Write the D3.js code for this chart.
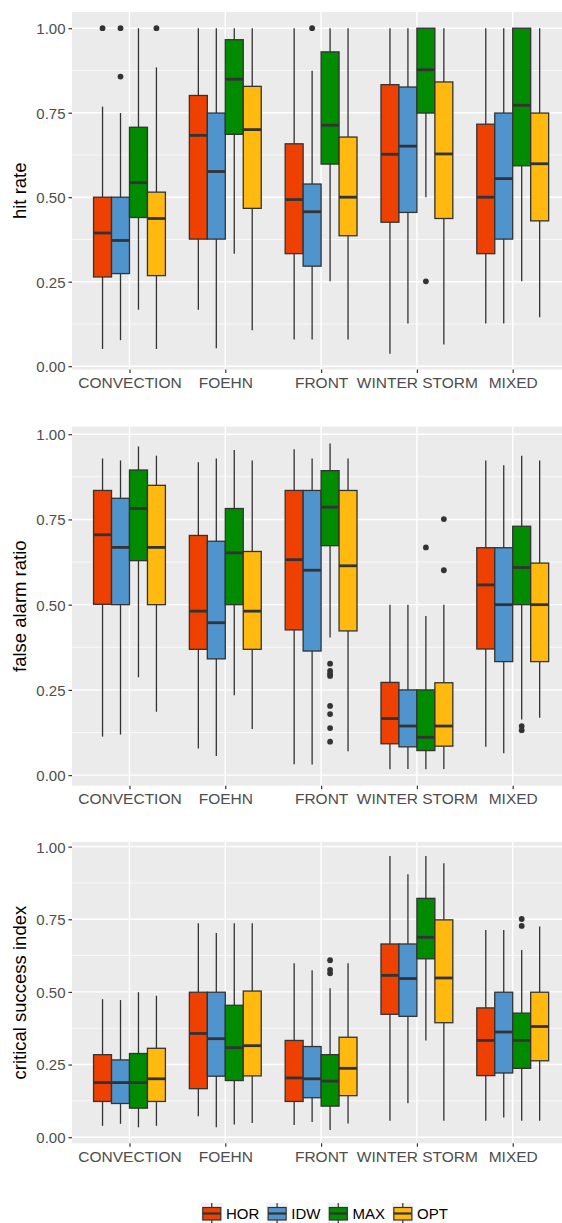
<!DOCTYPE html>
<html>
<head>
<meta charset="utf-8">
<script src="https://cdn.jsdelivr.net/npm/d3@7"></script>
<style>
  body { margin: 0; background: #fff; }
  text { font-family: "Liberation Sans", Arial, sans-serif; }
</style>
</head>
<body>
<div id="chart"></div>
<script>
// Categories, methods and ticks
const categories = ["CONVECTION", "FOEHN", "FRONT", "WINTER STORM", "MIXED"];
const methods = ["HOR", "IDW", "MAX", "OPT"];
const methodColors = ["#EE4000", "#4F94CD", "#008B00", "#FFB90F"];
const yTicks = [0, 0.25, 0.5, 0.75, 1];
const yMinorTicks = [0.125, 0.375, 0.625, 0.875];

// Box stats per category: [lower whisker, Q1, median, Q3, upper whisker]
const hitHOR = [[0.051,0.264,0.394,0.50,0.768],[0.167,0.376,0.683,0.801,1.0],[0.079,0.333,0.493,0.658,1.0],[0.037,0.426,0.627,0.833,1.0],[0.126,0.333,0.50,0.716,1.0]];
const hitIDW = [[0.077,0.274,0.372,0.50,0.749],[0.053,0.376,0.576,0.749,1.0],[0.079,0.296,0.457,0.539,0.874],[0.126,0.455,0.651,0.826,1.0],[0.126,0.376,0.555,0.749,1.0]];
const hitMAX = [[0.167,0.44,0.543,0.707,1.0],[0.333,0.686,0.849,0.966,1.0],[0.251,0.598,0.713,0.930,1.0],[0.50,0.749,0.877,1.0,1.0],[0.251,0.593,0.772,1.0,1.0]];
const hitOPT = [[0.051,0.268,0.437,0.515,0.884],[0.106,0.467,0.70,0.828,1.0],[0.079,0.386,0.50,0.678,1.0],[0.064,0.437,0.628,0.841,1.0],[0.145,0.43,0.599,0.749,1.0]];
const hitOutliers = [["CONVECTION","HOR",1.0],["CONVECTION","IDW",1.0],["CONVECTION","IDW",0.857],["CONVECTION","OPT",1.0],["FRONT","IDW",1.0],["WINTER STORM","MAX",0.251]];

const farHOR = [[0.113,0.501,0.705,0.835,0.929],[0.078,0.369,0.481,0.703,0.918],[0.032,0.426,0.632,0.835,0.956],[0.017,0.092,0.166,0.272,0.50],[0.083,0.370,0.558,0.667,0.923]];
const farIDW = [[0.119,0.50,0.668,0.812,0.923],[0.056,0.341,0.447,0.686,0.929],[0.031,0.364,0.601,0.835,0.929],[0.018,0.083,0.144,0.25,0.50],[0.064,0.333,0.50,0.667,0.909]];
const farMAX = [[0.287,0.629,0.782,0.895,0.964],[0.234,0.50,0.652,0.782,0.954],[0.404,0.673,0.786,0.893,0.973],[0.017,0.072,0.111,0.25,0.467],[0.163,0.50,0.609,0.73,0.937]];
const farOPT = [[0.186,0.50,0.668,0.85,0.937],[0.135,0.369,0.481,0.656,0.923],[0.07,0.423,0.614,0.835,0.929],[0.018,0.085,0.144,0.271,0.50],[0.168,0.333,0.50,0.622,0.923]];
const farOutliers = [["FRONT","MAX",0.327],["FRONT","MAX",0.306],["FRONT","MAX",0.297],["FRONT","MAX",0.291],["FRONT","MAX",0.203],["FRONT","MAX",0.179],["FRONT","MAX",0.138],["FRONT","MAX",0.098],["WINTER STORM","MAX",0.668],["WINTER STORM","OPT",0.751],["WINTER STORM","OPT",0.601],["MIXED","MAX",0.144],["MIXED","MAX",0.132]];

const csiHOR = [[0.039,0.123,0.188,0.284,0.475],[0.072,0.167,0.357,0.499,0.736],[0.042,0.123,0.204,0.333,0.599],[0.057,0.423,0.557,0.665,0.968],[0.057,0.212,0.333,0.445,0.713]];
const csiIDW = [[0.046,0.116,0.188,0.266,0.472],[0.034,0.21,0.339,0.499,0.703],[0.052,0.136,0.201,0.312,0.575],[0.117,0.416,0.546,0.665,0.905],[0.068,0.221,0.362,0.499,0.713]];
const csiMAX = [[0.034,0.10,0.188,0.288,0.499],[0.044,0.195,0.308,0.454,0.736],[0.025,0.107,0.193,0.284,0.513],[0.333,0.614,0.688,0.822,0.968],[0.057,0.237,0.333,0.427,0.644]];
const csiOPT = [[0.039,0.123,0.201,0.306,0.487],[0.049,0.211,0.315,0.503,0.736],[0.047,0.143,0.237,0.344,0.599],[0.057,0.394,0.548,0.748,0.943],[0.057,0.263,0.381,0.499,0.725]];
const csiOutliers = [["FRONT","MAX",0.609],["FRONT","MAX",0.576],["FRONT","MAX",0.564],["MIXED","MAX",0.751],["MIXED","MAX",0.727]];

// Panels (layout)
const panels = [
  {title: "hit rate", stats: [hitHOR, hitIDW, hitMAX, hitOPT], outliers: hitOutliers, top: 12, bottom: 369.5, domain: [-0.0098, 1.048]},
  {title: "false alarm ratio", stats: [farHOR, farIDW, farMAX, farOPT], outliers: farOutliers, top: 426.7, bottom: 785.7, domain: [-0.031, 1.022]},
  {title: "critical success index", stats: [csiHOR, csiIDW, csiMAX, csiOPT], outliers: csiOutliers, top: 842, bottom: 1143.3, domain: [-0.021, 1.016]}
];

const width = 562, height = 1223;
const plotLeft = 72, plotRight = 570.2;

const svg = d3.select("#chart")
  .append("svg")
    .attr("width", width)
    .attr("height", height);

// Shared X scales
const x = d3.scalePoint()
  .domain(categories)
  .range([plotLeft, plotRight])
  .padding(0.6);
const dodge = d3.scaleBand()
  .domain(methods)
  .range([-0.375 * x.step(), 0.375 * x.step()])
  .padding(0);
const color = d3.scaleOrdinal().domain(methods).range(methodColors);

panels.forEach(p => {
  const y = d3.scaleLinear().domain(p.domain).range([p.bottom, p.top]);
  const g = svg.append("g");

  // Panel background and grid
  g.append("rect")
    .attr("x", plotLeft).attr("y", p.top)
    .attr("width", plotRight - plotLeft).attr("height", p.bottom - p.top)
    .attr("fill", "#EBEBEB");
  g.selectAll(".minor").data(yMinorTicks).join("line")
    .attr("x1", plotLeft).attr("x2", plotRight)
    .attr("y1", d => y(d)).attr("y2", d => y(d))
    .attr("stroke", "#fff").attr("stroke-width", 0.7);
  g.selectAll(".major").data(yTicks).join("line")
    .attr("x1", plotLeft).attr("x2", plotRight)
    .attr("y1", d => y(d)).attr("y2", d => y(d))
    .attr("stroke", "#fff").attr("stroke-width", 1.4);
  g.selectAll(".vmajor").data(categories).join("line")
    .attr("x1", d => x(d)).attr("x2", d => x(d))
    .attr("y1", p.top).attr("y2", p.bottom)
    .attr("stroke", "#fff").attr("stroke-width", 1.4);

  // Boxes
  const rows = [];
  methods.forEach((m, mi) => {
    categories.forEach((c, ci) => {
      const s = p.stats[mi][ci];
      rows.push({cat: c, method: m, lo: s[0], q1: s[1], med: s[2], q3: s[3], hi: s[4]});
    });
  });
  const cx = d => x(d.cat) + dodge(d.method) + dodge.bandwidth() / 2;

  const box = g.selectAll(".box").data(rows).join("g");
  box.append("line")
    .attr("x1", cx).attr("x2", cx)
    .attr("y1", d => y(d.hi)).attr("y2", d => y(d.q3))
    .attr("stroke", "#333").attr("stroke-width", 1.3);
  box.append("line")
    .attr("x1", cx).attr("x2", cx)
    .attr("y1", d => y(d.q1)).attr("y2", d => y(d.lo))
    .attr("stroke", "#333").attr("stroke-width", 1.3);
  box.append("rect")
    .attr("x", d => x(d.cat) + dodge(d.method))
    .attr("y", d => y(d.q3))
    .attr("width", dodge.bandwidth())
    .attr("height", d => y(d.q1) - y(d.q3))
    .attr("fill", d => color(d.method))
    .attr("stroke", "#333").attr("stroke-width", 1.3);
  box.append("line")
    .attr("x1", d => x(d.cat) + dodge(d.method))
    .attr("x2", d => x(d.cat) + dodge(d.method) + dodge.bandwidth())
    .attr("y1", d => y(d.med)).attr("y2", d => y(d.med))
    .attr("stroke", "#333").attr("stroke-width", 2.8);

  // Outliers
  g.selectAll(".outlier").data(p.outliers).join("circle")
    .attr("cx", d => x(d[0]) + dodge(d[1]) + dodge.bandwidth() / 2)
    .attr("cy", d => y(d[2]))
    .attr("r", 2.9)
    .attr("fill", "#333");

  // Add Y axis
  const yAxis = g.append("g")
    .attr("transform", `translate(${plotLeft},0)`)
    .call(d3.axisLeft(y).tickValues(yTicks).tickFormat(d3.format(".2f")).tickSize(3.5).tickPadding(3));
  yAxis.select(".domain").remove();
  yAxis.selectAll("line").attr("stroke", "#333").attr("stroke-width", 1.2);
  yAxis.selectAll("text").attr("fill", "#4D4D4D").style("font-size", "15px").attr("dy", "0.36em");

  // Add X axis
  const xAxis = g.append("g")
    .attr("transform", `translate(0,${p.bottom})`)
    .call(d3.axisBottom(x).tickSize(3.5).tickPadding(4.2));
  xAxis.select(".domain").remove();
  xAxis.selectAll("line").attr("stroke", "#333").attr("stroke-width", 1.2);
  xAxis.selectAll("text").attr("fill", "#4D4D4D").style("font-size", "15.5px");

  // Y title
  g.append("text")
    .attr("transform", `translate(26,${(p.top + p.bottom) / 2}) rotate(-90)`)
    .attr("text-anchor", "middle")
    .style("font-size", "18.5px")
    .attr("fill", "#000")
    .text(p.title);
});

// Legend
const legend = svg.append("g");
let lx = 201;
methods.forEach(m => {
  const item = legend.append("g").attr("transform", `translate(${lx},1203)`);
  item.append("rect").attr("width", 21.5).attr("height", 21).attr("fill", "#F2F2F2");
  item.append("line").attr("x1", 10.75).attr("x2", 10.75).attr("y1", 0).attr("y2", 21)
    .attr("stroke", "#333").attr("stroke-width", 1.2);
  item.append("rect").attr("x", 1.8).attr("y", 4.5).attr("width", 18).attr("height", 12.5)
    .attr("fill", color(m)).attr("stroke", "#333").attr("stroke-width", 1.2);
  item.append("line").attr("x1", 1.8).attr("x2", 19.8).attr("y1", 10.5).attr("y2", 10.5)
    .attr("stroke", "#333").attr("stroke-width", 2.2);
  const t = item.append("text")
    .attr("x", 25).attr("y", 16.3)
    .style("font-size", "15px")
    .attr("fill", "#000")
    .text(m);
  lx += 25 + t.node().getComputedTextLength() + 7;
});
</script>
</body>
</html>
